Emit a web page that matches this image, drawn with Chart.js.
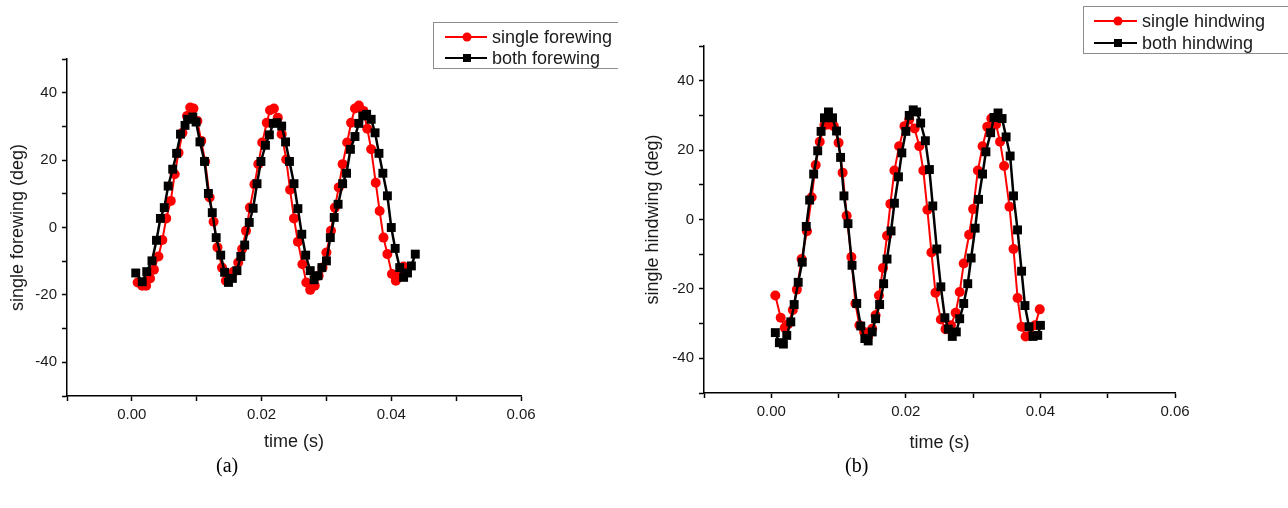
<!DOCTYPE html>
<html><head><meta charset="utf-8">
<script src="https://cdn.jsdelivr.net/npm/chart.js@4.4.1/dist/chart.umd.min.js"></script>
<style>
html,body{margin:0;padding:0;background:#fff;width:1288px;height:508px;overflow:hidden;}
#ca{position:absolute;left:0;top:0;}
#cb{position:absolute;left:640px;top:0;}
.cap{position:absolute;top:455px;line-height:20px;font-size:20px;font-family:"Liberation Serif","Times New Roman",serif;color:#000;}
</style></head><body>
<canvas id="ca" width="618" height="508"></canvas>
<canvas id="cb" width="648" height="508"></canvas>
<div class="cap" style="left:216px">(a)</div>
<div class="cap" style="left:845px">(b)</div>
<script>
// ---------- data (a) forewing ----------
const tA_single = [0.0009,0.0016,0.0022,0.0028,0.0034,0.0041,0.0047,0.0053,0.0060,0.0066,0.0072,0.0078,0.0085,0.0090,0.0095,0.0101,0.0107,0.0113,0.0120,0.0126,0.0132,0.0139,0.0145,0.0151,0.0157,0.0164,0.0170,0.0176,0.0182,0.0189,0.0195,0.0201,0.0208,0.0213,0.0219,0.0225,0.0231,0.0238,0.0244,0.0250,0.0256,0.0263,0.0269,0.0275,0.0282,0.0288,0.0294,0.0300,0.0307,0.0313,0.0319,0.0325,0.0332,0.0338,0.0344,0.0350,0.0357,0.0363,0.0369,0.0376,0.0382,0.0388,0.0394,0.0401,0.0407,0.0413,0.0419];
const yA_single = [-16.3,-17.3,-17.3,-15.1,-12.5,-8.6,-3.7,2.7,7.9,15.8,22.2,28.1,33.1,35.6,35.3,31.6,25.7,19.6,8.9,1.7,-5.9,-11.9,-15.8,-14.8,-13.1,-10.4,-6.4,-1.0,5.9,12.8,18.8,25.2,31.1,34.8,35.3,32.6,27.7,20.2,11.2,2.7,-4.2,-10.9,-16.3,-18.5,-17.3,-14.3,-11.9,-7.4,-1.0,5.9,11.9,18.8,25.2,31.1,35.3,36.2,34.6,29.3,23.2,13.3,4.9,-3.0,-7.9,-13.8,-15.8,-14.3,-11.6];
const tA_both = [0.0006,0.0016,0.0023,0.0031,0.0038,0.0044,0.0050,0.0056,0.0063,0.0069,0.0075,0.0082,0.0086,0.0094,0.0099,0.0105,0.0112,0.0118,0.0124,0.0130,0.0137,0.0143,0.0149,0.0155,0.0162,0.0168,0.0174,0.0181,0.0187,0.0193,0.0199,0.0206,0.0212,0.0218,0.0224,0.0231,0.0237,0.0243,0.0250,0.0256,0.0262,0.0268,0.0275,0.0281,0.0287,0.0293,0.0300,0.0306,0.0312,0.0318,0.0325,0.0331,0.0337,0.0344,0.0350,0.0356,0.0362,0.0369,0.0375,0.0381,0.0387,0.0394,0.0400,0.0406,0.0413,0.0419,0.0425,0.0431,0.0437];
const yA_both = [-13.5,-16.1,-13.1,-9.9,-3.8,2.7,5.9,12.3,17.3,22.0,27.7,30.3,32.1,32.8,31.3,25.4,19.6,10.1,4.4,-3.0,-8.2,-13.3,-16.3,-15.1,-12.8,-8.6,-5.2,1.5,5.7,13.0,19.6,24.4,27.5,30.9,31.1,30.1,25.4,19.6,13.0,5.6,-2.0,-8.2,-12.8,-15.5,-14.3,-11.9,-9.9,-3.0,3.0,6.9,13.0,16.1,23.2,27.0,30.9,33.1,33.6,32.1,28.1,22.0,16.1,9.4,0.0,-6.2,-11.9,-14.8,-13.5,-11.4,-7.9];

// ---------- data (b) hindwing ----------
const tB_single = [0.0006,0.0014,0.0020,0.0025,0.0032,0.0038,0.0045,0.0053,0.0060,0.0066,0.0072,0.0079,0.0085,0.0093,0.0100,0.0106,0.0112,0.0119,0.0125,0.0131,0.0138,0.0144,0.0150,0.0155,0.0160,0.0166,0.0172,0.0177,0.0183,0.0190,0.0198,0.0205,0.0213,0.0220,0.0226,0.0232,0.0238,0.0244,0.0252,0.0259,0.0267,0.0274,0.0280,0.0286,0.0294,0.0300,0.0307,0.0314,0.0321,0.0327,0.0334,0.0340,0.0346,0.0354,0.0360,0.0366,0.0372,0.0378,0.0385,0.0392,0.0399];
const yB_single = [-21.9,-28.3,-31.2,-30.2,-26.1,-20.2,-11.4,-3.4,6.4,15.7,22.4,27.2,27.4,26.9,22.1,13.5,1.1,-10.8,-24.2,-30.5,-32.4,-33.7,-31.5,-27.6,-21.9,-14.0,-4.7,4.5,14.1,21.1,26.9,28.8,26.2,21.1,14.1,2.8,-9.5,-21.1,-28.8,-31.6,-30.5,-26.9,-20.9,-12.7,-4.4,3.0,14.1,21.1,26.7,29.1,27.4,22.4,15.4,3.7,-8.5,-22.6,-30.9,-33.7,-33.4,-30.5,-25.9];
const tB_both = [0.0006,0.0012,0.0018,0.0023,0.0029,0.0034,0.0040,0.0046,0.0052,0.0057,0.0063,0.0069,0.0074,0.0079,0.0085,0.0091,0.0097,0.0103,0.0108,0.0114,0.0120,0.0127,0.0133,0.0139,0.0144,0.0150,0.0155,0.0161,0.0167,0.0172,0.0178,0.0183,0.0189,0.0194,0.0200,0.0205,0.0211,0.0216,0.0222,0.0229,0.0235,0.0240,0.0246,0.0252,0.0258,0.0263,0.0269,0.0275,0.0280,0.0286,0.0292,0.0297,0.0303,0.0308,0.0314,0.0319,0.0326,0.0331,0.0337,0.0343,0.0349,0.0355,0.0360,0.0366,0.0372,0.0377,0.0383,0.0389,0.0396,0.0400];
const yB_both = [-32.6,-35.5,-35.9,-33.4,-29.5,-24.5,-18.1,-12.3,-2.0,5.6,13.1,19.8,25.4,29.3,31.0,29.3,25.5,17.9,6.8,-1.2,-13.2,-24.2,-30.7,-34.3,-35.0,-32.4,-28.6,-24.5,-18.5,-11.4,-3.3,4.7,12.3,19.2,25.4,30.0,31.6,31.0,27.8,22.7,14.4,3.9,-8.5,-19.4,-28.3,-31.6,-33.7,-32.4,-28.6,-24.2,-18.5,-11.1,-2.5,5.8,13.1,19.5,25.0,29.4,30.7,29.1,23.8,18.3,6.8,-3.0,-14.9,-24.8,-30.9,-33.7,-33.4,-30.5];

// ---------- labels / ticks ----------
const labelsA = ['single forewing', 'both forewing'];
const labelsB = ['single hindwing', 'both hindwing'];
const yTitleA = 'single forewing (deg)';
const yTitleB = 'single hindwing (deg)';
const xTitle = 'time (s)';
const xMajorTicks = [0, 0.02, 0.04, 0.06];
const xMajorLabels = ['0.00', '0.02', '0.04', '0.06'];
const yMajorTicks = [-40, -20, 0, 20, 40];

const FONT = '"Liberation Sans", Arial, sans-serif';
const TXT = '#1a1a1a';

function pts(ts, ys) { return ts.map((t, i) => ({x: t, y: ys[i]})); }

const boxLegendPlugin = {
  id: 'boxLegend',
  afterDraw(chart, args, o) {
    const ctx = chart.ctx;
    ctx.save();
    ctx.strokeStyle = '#8c8c8c';
    ctx.lineWidth = 1;
    ctx.strokeRect(o.x + 0.5, o.y + 0.5, o.w, o.h);
    chart.data.datasets.forEach((ds, i) => {
      const ry = o.rows[i];
      ctx.strokeStyle = ds.borderColor;
      ctx.lineWidth = 2;
      ctx.beginPath(); ctx.moveTo(o.lx1, ry); ctx.lineTo(o.lx2, ry); ctx.stroke();
      ctx.fillStyle = ds.backgroundColor;
      if (ds.pointStyle === 'circle') {
        ctx.beginPath(); ctx.arc(o.mx, ry, 4.5, 0, Math.PI * 2); ctx.fill();
      } else {
        ctx.fillRect(o.mx - 4, ry - 4, 8, 8);
      }
      ctx.fillStyle = TXT;
      ctx.font = '18px ' + FONT;
      ctx.textBaseline = 'middle';
      ctx.textAlign = 'left';
      ctx.fillText(ds.label, o.tx, ry + 1);
    });
    ctx.restore();
  }
};

function xLabel(v) {
  const i = xMajorTicks.findIndex(m => Math.abs(m - v) < 1e-6);
  return i >= 0 ? xMajorLabels[i] : '';
}

function buildChart(id, p) {
  return new Chart(document.getElementById(id), {
    type: 'line',
    data: { datasets: [
      { label: p.labels[0], data: p.single, borderColor: '#ff0000', backgroundColor: '#ff0000',
        pointStyle: 'circle', pointRadius: 5, pointBorderWidth: 0, borderWidth: 2, tension: 0, order: 1 },
      { label: p.labels[1], data: p.both, borderColor: '#000000', backgroundColor: '#000000',
        pointStyle: 'rect', pointRadius: 6.3, pointBorderWidth: 0, borderWidth: 2.5, tension: 0, order: 0 }
    ]},
    options: {
      responsive: false, animation: false, devicePixelRatio: 1,
      layout: { padding: { left: 0, top: p.top, right: p.right, bottom: 48 } },
      plugins: { legend: { display: false }, tooltip: { enabled: false }, boxLegend: p.legend },
      scales: {
        x: {
          type: 'linear', position: 'bottom', min: -0.01, max: 0.06,
          border: { display: true, color: '#000', width: 1.5 },
          grid: { display: true, drawOnChartArea: false, drawTicks: true, tickLength: 5, tickColor: '#000', tickWidth: 1.5 },
          ticks: { stepSize: 0.01, autoSkip: false, maxRotation: 0, padding: 5, color: TXT,
            font: { family: FONT, size: 15 }, callback: v => xLabel(v) },
          title: { display: true, text: xTitle, color: TXT, font: { family: FONT, size: 18 }, padding: { top: 0, bottom: p.xTitlePad } },
          afterFit: s => { s.height = p.xh; }
        },
        y: {
          type: 'linear', position: 'left', min: -50, max: 50,
          border: { display: true, color: '#000', width: 1.5 },
          grid: { display: true, drawOnChartArea: false, drawTicks: true, tickLength: 5, tickColor: '#000', tickWidth: 1.5 },
          ticks: { stepSize: 10, autoSkip: false, padding: 5, color: TXT,
            font: { family: FONT, size: 15 },
            callback: v => yMajorTicks.includes(Math.round(v)) ? String(Math.round(v)) : '' },
          title: { display: true, text: p.yTitle, color: TXT, font: { family: FONT, size: 18 }, padding: { top: p.yTitlePad, bottom: 0 } },
          afterFit: s => { s.width = p.yw; }
        }
      }
    },
    plugins: [boxLegendPlugin]
  });
}

buildChart('ca', {
  labels: labelsA, single: pts(tA_single, yA_single), both: pts(tA_both, yA_both),
  yTitle: yTitleA, top: 59, right: 618 - 521, xh: 64, yw: 67, xTitlePad: 7, yTitlePad: 7,
  legend: { x: 433, y: 22, w: 260, h: 46, rows: [37, 58], lx1: 445, lx2: 487, mx: 467, tx: 492 }
});
buildChart('cb', {
  labels: labelsB, single: pts(tB_single, yB_single), both: pts(tB_both, yB_both),
  yTitle: yTitleB, top: 46, right: 648 - 535, xh: 67, yw: 64, xTitlePad: 6.5, yTitlePad: 2,
  legend: { x: 443, y: 6, w: 260, h: 47, rows: [21, 43], lx1: 454, lx2: 497, mx: 478, tx: 502 }
});
</script>
</body></html>
